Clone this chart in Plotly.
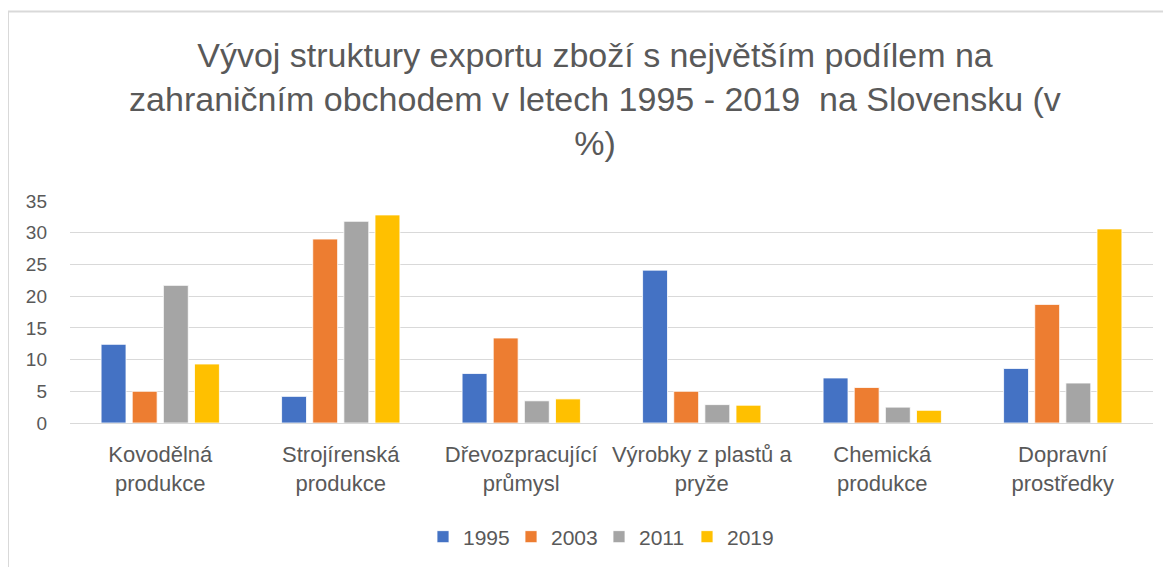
import plotly.graph_objects as go

categories = ["Kovodělná<br>produkce", "Strojírenská<br>produkce", "Dřevozpracující<br>průmysl",
              "Výrobky z plastů a<br>pryže", "Chemická<br>produkce", "Dopravní<br>prostředky"]
years = ["1995", "2003", "2011", "2019"]
v1995 = [12.4, 4.2, 7.8, 24.1, 7.1, 8.6]
v2003 = [5.0, 29.0, 13.4, 5.0, 5.6, 18.7]
v2011 = [21.7, 31.8, 3.5, 2.9, 2.5, 6.3]
v2019 = [9.3, 32.8, 3.8, 2.8, 2.0, 30.6]
series = [v1995, v2003, v2011, v2019]
colors = ["#4472C4", "#ED7D31", "#A5A5A5", "#FFC000"]

FONT = "Liberation Sans, Arial, sans-serif"

fig = go.Figure()
for name, vals, col in zip(years, series, colors):
    fig.add_trace(go.Bar(x=categories, y=vals, name=name,
                         marker=dict(color=col, line=dict(color="white", width=0.8))))

# page is offset by the 8px body margin
W, H = 1171, 567
L, R, T, B = 62, 26, 193, 152
pw, ph = W - L - R, H - T - B

def px_x(x):
    return (x - L) / pw

def px_y(y):
    return (H - B - y) / ph

fig.update_layout(
    width=W, height=H, autosize=False,
    margin=dict(l=L, r=R, t=T, b=B, autoexpand=False),
    paper_bgcolor="white", plot_bgcolor="white",
    barmode="group", bargap=0.31, bargroupgap=0.2,
    font=dict(family=FONT, color="#595959", size=19),
    title=dict(text="Vývoj struktury exportu zboží s největším podílem na<br>"
                    "zahraničním obchodem v letech 1995 - 2019  na Slovensku (v<br>%)",
               x=px_x(587), xanchor="center", y=1 - 59 / H, yanchor="top",
               yref="container", xref="paper",
               font=dict(family=FONT, size=34, color="#595959")),
    xaxis=dict(showgrid=False, showline=True, linecolor="#D9D9D9", linewidth=1,
               tickfont=dict(size=22, color="#595959"), ticks="", tickangle=0,
               automargin=False, ticklabelstandoff=12),
    yaxis=dict(range=[0, 35], dtick=5, showgrid=True, gridcolor="#D9D9D9", gridwidth=1,
               zeroline=False, showline=False, ticks="", automargin=False,
               tickfont=dict(size=19, color="#595959"), ticklabelstandoff=22),
    legend=dict(orientation="h", x=px_x(591), xanchor="center",
                y=px_y(529), yanchor="middle", entrywidth=43, entrywidthmode="pixels",
                font=dict(size=21, color="#595959"), traceorder="normal"),
    shapes=[dict(type="rect", xref="paper", yref="paper",
                 x0=px_x(0), x1=px_x(1190), y0=px_y(600), y1=px_y(3.5),
                 line=dict(color="#D9D9D9", width=2), layer="below")],
)

fig.write_html("out.html")
